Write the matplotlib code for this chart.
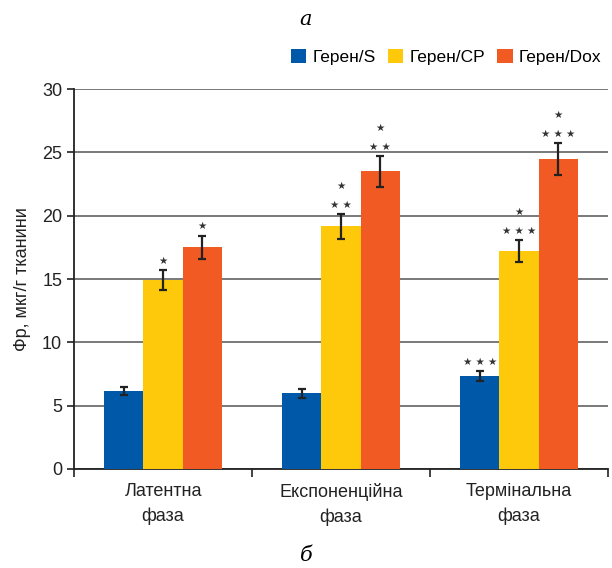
import matplotlib.pyplot as plt
import numpy as np

# ==================== дані ====================
phases = ['Латентна\nфаза', 'Експоненційна\nфаза', 'Термінальна\nфаза']
series = ['Герен/S', 'Герен/CP', 'Герен/Dox']
colors = ['#0058A9', '#FEC90B', '#F15B23']

geren_s = [6.15, 5.97, 7.32]
geren_cp = [14.9, 19.15, 17.2]
geren_dox = [17.5, 23.5, 24.45]

err_s = [0.33, 0.34, 0.38]
err_cp = [0.79, 0.97, 0.87]
err_dox = [0.9, 1.2, 1.25]

# позначки достовірності: (нижній ряд, верхній ряд)
marks_s = [('', ''), ('', ''), ('★ ★ ★', '')]
marks_cp = [('★', ''), ('★ ★', '★'), ('★ ★ ★', '★')]
marks_dox = [('★', ''), ('★ ★', '★'), ('★ ★ ★', '★')]

# ==================== графік ====================
plt.rcParams['font.family'] = ['Liberation Sans', 'DejaVu Sans']
plt.rcParams['font.size'] = 12

fig = plt.figure(figsize=(6.12, 5.68), dpi=100)
ax = fig.add_axes([0.121, 0.1743, 0.8725, 0.669])

x = np.arange(len(phases))
w = 0.22
values = [geren_s, geren_cp, geren_dox]
errors = [err_s, err_cp, err_dox]
marks = [marks_s, marks_cp, marks_dox]

for i, (vals, errs, mk) in enumerate(zip(values, errors, marks)):
    pos = x + (i - 1) * w
    ax.bar(pos, vals, w, color=colors[i], label=series[i], zorder=3,
           yerr=errs, error_kw=dict(ecolor='#222222', elinewidth=1.6,
                                    capsize=3, capthick=1.6, zorder=4))
    for p, v, e, (low, up) in zip(pos, vals, errs, mk):
        if low:
            ax.text(p, v + e + 0.75, low, ha='center', va='center',
                    fontsize=7.5, color='#333333', family='DejaVu Sans')
        if up:
            ax.text(p, v + e + 2.25, up, ha='center', va='center',
                    fontsize=7.5, color='#333333', family='DejaVu Sans')

ax.set_ylim(0, 30)
ax.set_yticks(range(0, 31, 5))
ax.set_xlim(-0.5, 2.5)
ax.set_xticks([-0.5, 0.5, 1.5, 2.5])
ax.set_xticklabels([])
ax.set_xticks(x, minor=True)
ax.set_xticklabels(phases, minor=True, fontsize=13, color='#222222',
                   linespacing=1.55)
ax.tick_params(axis='x', which='minor', length=0, pad=10)
ax.tick_params(axis='x', which='major', length=6, width=1.2, color='#222222')
ax.tick_params(axis='y', length=5, width=1.2, color='#222222',
               labelsize=13, labelcolor='#222222')

ax.grid(axis='y', color='#555555', linewidth=1.1, zorder=0)
for s in ['top', 'right']:
    ax.spines[s].set_visible(False)
for s in ['left', 'bottom']:
    ax.spines[s].set_color('#222222')
    ax.spines[s].set_linewidth(1.3)

ax.set_ylabel('Фр, мкг/г тканини', fontsize=13, color='#222222', labelpad=8)

fig.legend(loc='center right', bbox_to_anchor=(1.0, 0.9), ncol=3,
           frameon=False, handlelength=0.9, handleheight=0.9,
           handletextpad=0.35, columnspacing=0.7, fontsize=12.5,
           borderaxespad=0.2)

fig.text(0.5, 0.965, 'а', ha='center', va='center', fontsize=15,
         style='italic', family='DejaVu Serif')
fig.text(0.5, 0.022, 'б', ha='center', va='center', fontsize=15,
         style='italic', family='DejaVu Serif')

plt.savefig('out.png', dpi=100)
